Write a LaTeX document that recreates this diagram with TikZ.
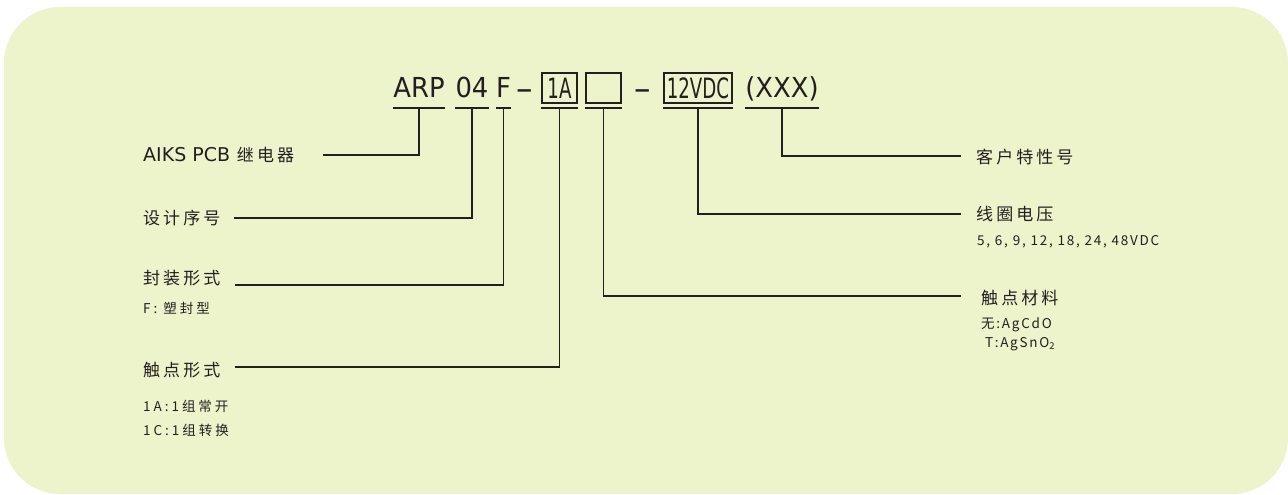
\documentclass[tikz,border=0pt]{standalone}
\usepackage{fontspec}
\usepackage{xcolor}
\usepackage{tikz}
\usetikzlibrary{positioning,calc}
\setmainfont{DejaVu Sans}
\newfontfamily\cjk[LetterSpace=18]{Noto Sans CJK SC}
\newfontfamily\cjknote[LetterSpace=22]{Noto Sans CJK SC}
\newfontfamily\cjknarrow[LetterSpace=13]{Noto Sans CJK SC}
\newfontfamily\titlefont[FakeStretch=0.94]{DejaVu Sans}
\newfontfamily\boxfont[FakeStretch=0.65]{DejaVu Sans}
\definecolor{PanelGreen}{RGB}{237,243,203}
\definecolor{InkDark}{RGB}{35,31,32}
\tikzset{
    titlepart/.style={inner sep=0pt, anchor=base, text=InkDark, font=\titlefont\fontsize{27.5}{30}\selectfont},
    codebox/.style={draw=InkDark, line width=1.4pt, minimum height=30pt, inner sep=0pt, text=InkDark, font=\boxfont\fontsize{28}{30}\selectfont},
    leader/.style={draw=InkDark, line width=1.8pt}
}

\begin{document}
\begin{tikzpicture}[
        x=1pt, y=-1pt,
        % main labels: Chinese text with tracking
        mainlabel/.style={
            anchor=west,
            inner sep=0pt,
            text=InkDark,
            font=\cjk\fontsize{17}{20}\selectfont
        },
        % notes under the labels
        notelabel/.style={
            anchor=west,
            inner sep=0pt,
            text=InkDark,
            font=\cjknote\fontsize{13.5}{16}\selectfont
        },
        % dash between the code parts
        codedash/.style={
            titlepart,
            font=\titlefont\fontsize{35}{36}\selectfont
        }
    ]
    \useasboundingbox (0,0) rectangle (1288,495);

    % --- panel ---
    \fill[PanelGreen, rounded corners=56pt] (4,7) rectangle (1288,494);

    % --- model code ---
    \node[titlepart] (arp) at (419,98) {ARP};
    \node[titlepart] (num) at (472,98) {04};
    \node[titlepart] (pkg) at (503.5,98) {F};
    \node[codedash] (dasha) at (524.5,100) {–};
    \node[codebox, minimum width=35pt] (contact) at (559.5,88) {1A};
    \node[codebox, minimum width=35pt] (material) at (603.5,88) {};
    \node[codedash] (dashb) at (642.5,100) {–};
    \node[codebox, minimum width=68pt] (coil) at (698,88) {12VDC};
    \node[titlepart] (custom) at (782,98) {(XXX)};

    % underline bars
    \coordinate (bary) at (0,108);
    \foreach \part in {arp,num,pkg,contact,material,coil,custom}
        \draw[leader] (\part.west |- bary) -- (\part.east |- bary);

    % --- left labels ---
    \node[mainlabel] (relay) at (143,155) {{\rmfamily\fontsize{19}{22}\selectfont AIKS PCB} 继电器};
    \node[mainlabel] (serial) at (143,218) {设计序号};
    \node[mainlabel] (form) at (143,278) {封装形式};
    \node[notelabel] (formnote) at (143,308) {F:\ 塑封型};
    \node[mainlabel] (arrange) at (143,370) {触点形式};
    \node[notelabel] (arrangea) at (143,406) {1A:1组常开};
    \node[notelabel] (arrangec) at (143,430) {1C:1组转换};

    % --- right labels ---
    \node[mainlabel] (client) at (976,157) {客户特性号};
    \node[mainlabel] (voltage) at (976,214) {线圈电压};
    \node[notelabel, font=\cjknarrow\fontsize{13.5}{16}\selectfont] (voltnote) at (977,242) {5, 6, 9, 12, 18, 24, 48VDC};
    \node[mainlabel] (metal) at (981,298) {触点材料};
    \node[notelabel, font=\cjknarrow\fontsize{13.5}{16}\selectfont] (metala) at (981,325) {无:AgCdO};
    \node[notelabel, font=\cjknarrow\fontsize{13.5}{16}\selectfont] (metalb) at (985,344) {T:AgSnO\textsubscript{2}};

    % --- leader lines ---
    \coordinate (endrelay) at (323,155);
    \coordinate (endserial) at (234,218);
    \coordinate (endform) at (235,285);
    \coordinate (endarrange) at (235,367);
    \coordinate (endmetal) at (961,296);
    \coordinate (endvoltage) at (961,214);
    \coordinate (endclient) at (961,156);

    \draw[leader] (arp |- bary) |- (endrelay);
    \draw[leader] (num |- bary) |- (endserial);
    \draw[leader] (pkg |- bary) |- (endform);
    \draw[leader] (contact |- bary) |- (endarrange);
    \draw[leader] (material |- bary) |- (endmetal);
    \draw[leader] (coil |- bary) |- (endvoltage);
    \draw[leader] (custom |- bary) |- (endclient);

\end{tikzpicture}
\end{document}
